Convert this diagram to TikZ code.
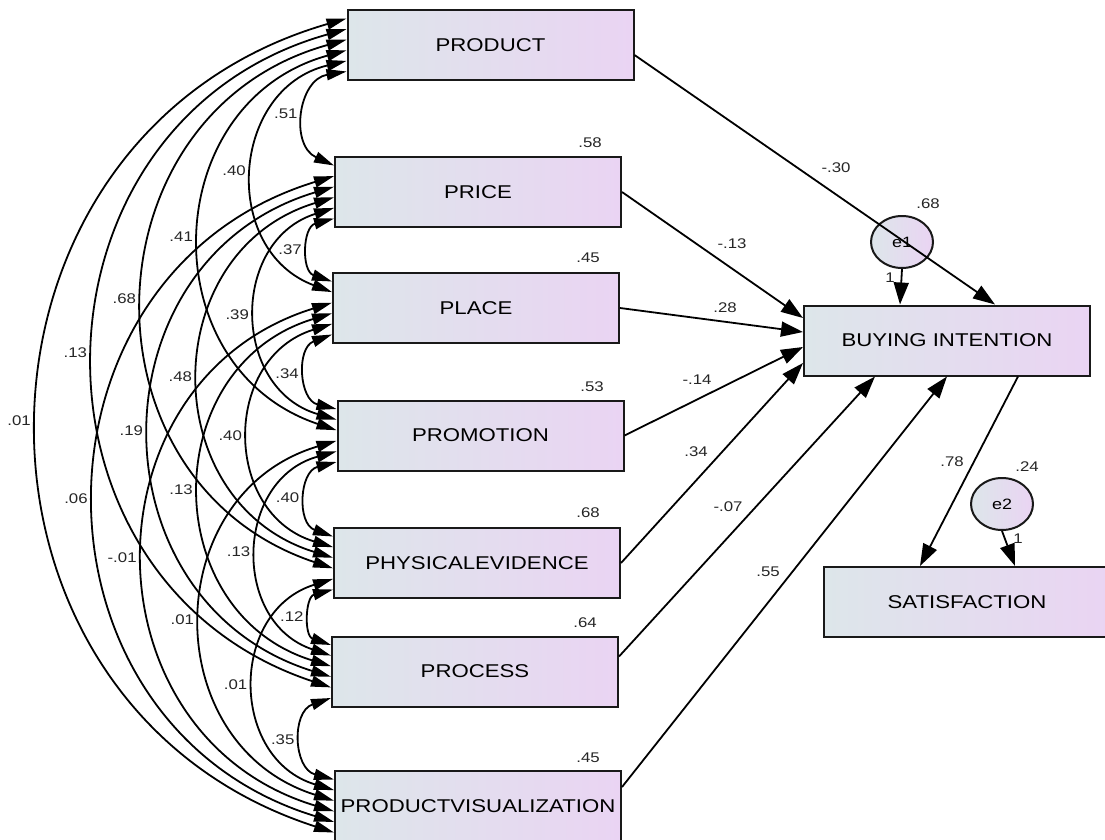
\documentclass[tikz,border=0pt]{standalone}
\usepackage{fontspec}
\setmainfont{Liberation Sans}[FakeStretch=1.2]
\usetikzlibrary{arrows.meta,shapes.geometric}
\definecolor{boxL}{RGB}{221,230,234}
\definecolor{boxR}{RGB}{234,212,243}
\definecolor{edgec}{RGB}{25,25,25}
\newcommand\cv[4]{\draw[cov] (c#1) to[bend right=73, looseness=1.32] node[num, midway, left=7pt] (#3) {#4} (c#2);}
\begin{document}
\begin{tikzpicture}[x=1pt,y=-1pt,
  var/.style={draw=edgec, line width=2pt, left color=boxL, right color=boxR, minimum width=286pt, minimum height=70pt, inner sep=0pt, font=\fontsize{18.5}{20}\selectfont},
  err/.style={ellipse, draw=edgec, line width=2pt, left color=boxL, right color=boxR, minimum width=62pt, minimum height=52pt, inner sep=0pt, font=\fontsize{15}{16}\selectfont},
  num/.style={font=\fontsize{14}{15}\selectfont, inner sep=0pt, text=black!85},
  cov/.style={line width=1.8pt, draw=black, {Triangle[length=20pt,width=11pt]}-{Triangle[length=20pt,width=11pt]}},
  reg/.style={line width=1.8pt, draw=black, -{Triangle[length=22pt,width=15pt]}}]
\useasboundingbox (0,0) rectangle (1105,840);
\clip (0,0) rectangle (1105,840);
\fill[white] (0,0) rectangle (1105,840);
% exogenous boxes
\node[var] (n1) at (490.5,45) {PRODUCT};
\node[var] (n2) at (478,192) {PRICE};
\node[var] (n3) at (476,308) {PLACE};
\node[var] (n4) at (480.5,435.5) {PROMOTION};
\node[var] (n5) at (477,563) {PHYSICALEVIDENCE};
\node[var] (n6) at (475,671.5) {PROCESS};
\node[var] (n7) at (478,806) {PRODUCTVISUALIZATION};
% endogenous
\node[var] (bi) at (947,340.5) {BUYING INTENTION};
\node[var] (sat) at (967,602) {SATISFACTION};
\node[err] (e1) at (902,242) {e1};
\node[err] (e2) at (1002,504) {e2};
% variance / R2 labels
\node[num] (r2) at (590,143) {.58};
\node[num] (r3) at (588,258) {.45};
\node[num] (r4) at (592,387) {.53};
\node[num] (r5) at (588,513) {.68};
\node[num] (r6) at (585,623) {.64};
\node[num] (r7) at (588,758) {.45};
\node[num] (rb) at (928,204) {.68};
\node[num] (rs) at (1027,467) {.24};
% regression paths
\draw[reg] ([yshift=-10pt]n1.east) -- ([xshift=48pt]bi.north);
\draw[reg] (n2.east) -- ([yshift=22.5pt]bi.west);
\draw[reg] (n3.east) -- ([yshift=8.5pt]bi.west);
\draw[reg] (n4.east) -- ([yshift=-6.5pt]bi.west);
\draw[reg] (n5.east) -- ([yshift=-22.5pt]bi.west);
\draw[reg] ([yshift=15pt]n6.east) -- ([xshift=-72pt]bi.south);
\draw[reg] ([yshift=19pt]n7.east) -- (bi.south);
\draw[reg] ([xshift=71pt]bi.south) -- ([xshift=-47pt]sat.north);
\draw[reg] (e1.south) -- ([xshift=-47pt]bi.north);
\draw[reg] (e2.south) -- ([xshift=48pt]sat.north);
\node[num] (w1) at (836,168) {-.30};
\node[num] (w2) at (732,244) {-.13};
\node[num] (w3) at (725,308) {.28};
\node[num] (w4) at (697,380) {-.14};
\node[num] (w5) at (696,452) {.34};
\node[num] (w6) at (728,507) {-.07};
\node[num] (w7) at (768,572) {.55};
\node[num] (w8) at (952,462) {.78};
\node[num] (w9) at (890,278) {1};
\node[num] (w10) at (1018,539) {1};
% covariance attachment points
\foreach \b in {1,...,7}{
  \foreach \k/\o in {0/26.5,1/15.9,2/5.3,3/-5.3,4/-15.9,5/-26.5}{
    \coordinate (c\b\k) at ([yshift=\o pt]n\b.west);
  }
}
\cv{15}{20}{l12}{.51}
\cv{14}{31}{l13}{.40}
\cv{13}{42}{l14}{.41}
\cv{12}{53}{l15}{.68}
\cv{11}{64}{l16}{.13}
\cv{10}{75}{l17}{.01}
\cv{25}{30}{l23}{.37}
\cv{24}{41}{l24}{.39}
\cv{23}{52}{l25}{.48}
\cv{22}{63}{l26}{.19}
\cv{21}{74}{l27}{.06}
\cv{35}{40}{l34}{.34}
\cv{34}{51}{l35}{.40}
\cv{33}{62}{l36}{.13}
\cv{32}{73}{l37}{-.01}
\cv{45}{50}{l45}{.40}
\cv{44}{61}{l46}{.13}
\cv{43}{72}{l47}{.01}
\cv{55}{60}{l56}{.12}
\cv{54}{71}{l57}{.01}
\cv{65}{70}{l67}{.35}
\end{tikzpicture}
\end{document}
